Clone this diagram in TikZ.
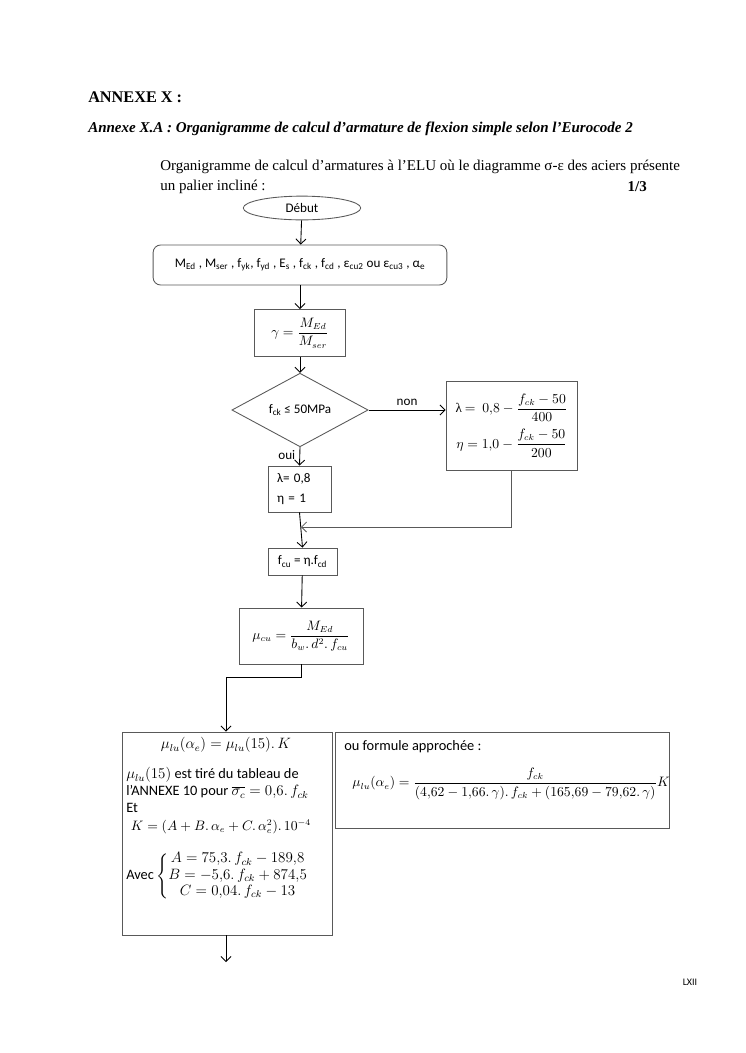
\documentclass[tikz,border=0pt]{standalone}
\usepackage{amsmath}
\usepackage{fontspec}
\setmainfont{Liberation Serif}
\setsansfont{Carlito}
\usetikzlibrary{shapes.geometric,arrows.meta}
\newcommand\sbs[1]{\textsubscript{#1}}
\newcommand\boxfont{\sffamily\fontsize{10.5}{12.6}\selectfont}
\newcommand\bigboxfont{\sffamily\fontsize{11.5}{13.8}\selectfont}

\begin{document}
\begin{tikzpicture}[x=0.8pt, y=-0.8pt, every node/.style={font=\boxfont},
    box/.style={draw=black!65, line width=0.7pt, inner sep=0pt},
    flow/.style={-{Straight Barb[length=4pt,width=8pt]}, line width=0.7pt, black},
    txt/.style={anchor=west, inner sep=0pt, font=\bigboxfont},
    head/.style={anchor=west, inner sep=0pt, font=\rmfamily\fontsize{12}{14}\selectfont}]
  \useasboundingbox (0,0) rectangle (745,1053);

  % Page headings
  \node[head, font=\rmfamily\bfseries\fontsize{13}{15}\selectfont] (annexe) at (88,97) {ANNEXE X :};
  \node[head, font=\rmfamily\bfseries\itshape\fontsize{12}{14}\selectfont] (titre) at (88,129) {Annexe X.A : Organigramme de calcul d’armature de flexion simple selon l’Eurocode 2};
  \node[head] (intro1) at (160,167) {Organigramme de calcul d’armatures à l’ELU où le diagramme σ-ε des aciers présente};
  \node[head] (intro2) at (160,187) {un palier incliné :};
  \node[head, anchor=east, font=\rmfamily\bfseries\fontsize{12}{14}\selectfont] (page) at (647,187) {1/3};

  % Flow boxes
  \node[box, ellipse, minimum width=94pt, minimum height=19pt] (debut) at (302,208) {Début};
  \node[box, rounded corners=6pt, minimum width=235pt, minimum height=32pt] (data) at (300,265)
    {M\sbs{Ed} , M\sbs{ser} , f\sbs{yk}, f\sbs{yd} , E\sbs{s} , f\sbs{ck} , f\sbs{cd} , ε\sbs{cu2} ou ε\sbs{cu3} , α\sbs{e}};
  \node[box, minimum width=73pt, minimum height=37.6pt] (gam) at (300,333) {$\gamma=\dfrac{M_{Ed}}{M_{ser}}$};
  \node[box, diamond, minimum width=109pt, minimum height=48pt] (test) at (300,410) {f\sbs{ck} ≤ 50MPa};
  \node[box, minimum width=104.8pt, minimum height=71.2pt, align=center] (lam) at (511.5,425.5)
    {{\rmfamily λ} $=\ 0{,}8-\dfrac{f_{ck}-50}{400}$\\[5pt] $\eta=1{,}0-\dfrac{f_{ck}-50}{200}$};
  \node[box, minimum width=50.4pt, minimum height=36.8pt, align=left, text width=36pt] (low) at (299.5,489)
    {λ= 0,8\\[4pt]η = 1};
  \node[box, minimum width=55.2pt, minimum height=21.6pt] (fcu) at (302.5,561.5) {f\sbs{cu} = η.f\sbs{cd}};
  \node[box, minimum width=99.2pt, minimum height=44.8pt] (mucu) at (301,636) {$\mu_{cu}=\dfrac{M_{Ed}}{b_w.\,d^2.\,f_{cu}}$};
  \node[box, minimum width=168pt, minimum height=162.4pt] (left) at (227,833.5) {};
  \node[box, minimum width=267.2pt, minimum height=76.8pt] (right) at (502,780) {};

  % Contents of the last boxes
  \node[txt, anchor=center] (k1) at (226,745) {$\mu_{lu}(\alpha_e)=\mu_{lu}(15).\,K$};
  \node[txt] (k2) at (126,775) {$\mu_{lu}(15)$ est tiré du tableau de};
  \node[txt] (k3) at (126,792) {l’ANNEXE 10 pour $\overline{\sigma_c}=0{,}6.\,f_{ck}$};
  \node[txt] (k4) at (126,808) {Et};
  \node[txt, anchor=center, font=\boxfont] (k5) at (221,827) {$K=(A+B.\,\alpha_e+C.\,\alpha_e^2).\,10^{-4}$};
  \node[txt] (k6) at (126,876)
    {Avec\,$\renewcommand\arraystretch{0.95}\left\{\begin{array}{@{}c@{}}A=75{,}3.\,f_{ck}-189{,}8\\ B=-5{,}6.\,f_{ck}+874{,}5\\ C=0{,}04.\,f_{ck}-13\end{array}\right.$};
  \node[txt] (r1) at (344,747) {ou formule approchée :};
  \node[txt, anchor=center, font=\boxfont] (r2) at (511,784) {$\mu_{lu}(\alpha_e)=\dfrac{f_{ck}}{(4{,}62-1{,}66.\,\gamma).\,f_{ck}+(165{,}69-79{,}62.\,\gamma)}K$};

  % Connectors
  \coordinate (merge) at (301,527);
  \coordinate (bend) at (226,677);
  \coordinate (fin) at (226,962);
  \draw[flow] (debut) -- (data);
  \draw[flow] (data) -- (gam);
  \draw[flow] (gam) -- (test);
  \draw[flow] (test.east) -- node[above] (non) {non} (test.east -| lam.west);
  \draw[flow] (test.south) -- node[left, pos=0.45] (oui) {oui} (low.north);
  \draw[flow, black!65] (lam.south) |- (merge);
  \draw[flow] (low.south) -- (fcu.north);
  \draw[flow] (fcu) -- (mucu);
  \draw[flow] (mucu.south) |- (bend) -- (left.north -| bend);
  \draw[flow] (left.south -| fin) -- (fin);

  % Folio
  \node[font=\sffamily\fontsize{8}{10}\selectfont] (folio) at (690,982) {LXII};
\end{tikzpicture}
\end{document}
